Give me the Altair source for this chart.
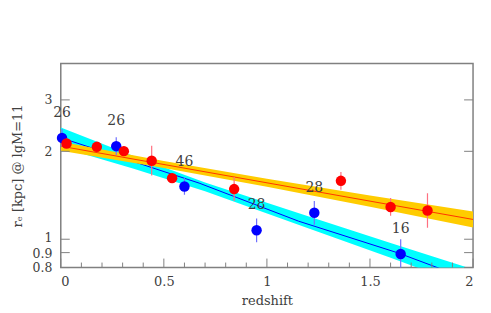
import altair as alt
import pandas as pd

# ---- data ----
blue_z = [0.006, 0.269, 0.600, 0.950, 1.230, 1.649]
blue_r = [2.223, 2.083, 1.516, 1.073, 1.232, 0.890]
blue_lo = [2.072, 1.942, 1.419, 0.977, 1.121, 0.791]
blue_hi = [2.384, 2.235, 1.620, 1.178, 1.353, 1.000]
blue_n = ["26", "26", "46", "28", "28", "16"]

red_z = [0.028, 0.175, 0.306, 0.441, 0.540, 0.841, 1.359, 1.600, 1.779]
red_r = [2.127, 2.072, 2.003, 1.857, 1.619, 1.485, 1.585, 1.290, 1.254]
red_lo = [2.046, 1.992, 1.926, 1.652, 1.557, 1.353, 1.477, 1.203, 1.094]
red_hi = [2.212, 2.154, 2.083, 2.088, 1.683, 1.632, 1.700, 1.385, 1.438]

blue_fit_z = [0.0, 0.671, 1.154, 1.638, 2.0]
blue_fit_r = [2.226, 1.557, 1.153, 0.897, 0.720]
blue_band_z = [0.0, 0.35, 0.7, 1.2, 1.6, 2.0]
blue_band_lo = [2.065, 1.746, 1.459, 1.091, 0.864, 0.680]
blue_band_hi = [2.414, 1.932, 1.565, 1.198, 0.971, 0.789]

red_fit_z = [0.0, 2.0]
red_fit_r = [2.083, 1.169]
red_band_z = [0.0, 0.5, 1.0, 1.5, 2.0]
red_band_lo = [2.011, 1.753, 1.512, 1.291, 1.098]
red_band_hi = [2.158, 1.854, 1.610, 1.413, 1.244]

y_ticks = [0.8, 0.9, 1, 2, 3]
x_major = [0, 0.5, 1, 1.5, 2]
x_minor = [0.1, 0.2, 0.3, 0.4, 0.6, 0.7, 0.8, 0.9, 1.1, 1.2, 1.3, 1.4,
           1.6, 1.7, 1.8, 1.9]

FONT = "DejaVu Serif"
W, H = 414, 205

blue = pd.DataFrame({"z": blue_z, "r": blue_r, "lo": blue_lo, "hi": blue_hi, "n": blue_n})
red = pd.DataFrame({"z": red_z, "r": red_r, "lo": red_lo, "hi": red_hi})
bfit = pd.DataFrame({"z": blue_fit_z, "r": blue_fit_r})
rfit = pd.DataFrame({"z": red_fit_z, "r": red_fit_r})
bband = pd.DataFrame({"z": blue_band_z, "lo": blue_band_lo, "hi": blue_band_hi})
rband = pd.DataFrame({"z": red_band_z, "lo": red_band_lo, "hi": red_band_hi})
yt = pd.DataFrame({"v": y_ticks})
xM = pd.DataFrame({"v": x_major})
xm = pd.DataFrame({"v": x_minor})

xs = alt.Scale(domain=[0, 2], nice=False, zero=False)
ys = alt.Scale(type="log", domain=[0.8, 4], nice=False)

axis_style = dict(labelFont=FONT, titleFont=FONT,
                  titleFontSize=13, labelColor="#404040", titleColor="#404040",
                  titleFontWeight="normal", grid=False, domain=False, ticks=False,
                  labelOverlap=False)
x_axis = alt.Axis(values=x_major, format=".1~f", title="redshift",
                  labelFontSize=13, labelPadding=8, titlePadding=6, **axis_style)
y_axis = alt.Axis(values=y_ticks, format=".1~f", title="rₑ [kpc] @ lgM=11",
                  labelFontSize=12.5, labelPadding=9, titlePadding=8,
                  labelOffset={"expr": "datum.value == 1 ? -1.5 : (datum.value == 0.9 ? 1 : 0)"},
                  **axis_style)

base_x = alt.X("z:Q", scale=xs)

band_b = alt.Chart(bband).mark_area(color="#00ffff", clip=True).encode(
    x=alt.X("z:Q", scale=xs, axis=x_axis),
    y=alt.Y("lo:Q", scale=ys, axis=y_axis), y2="hi:Q")
line_b = alt.Chart(bfit).mark_line(color="#0000ff", strokeWidth=1, clip=True).encode(
    x=base_x, y=alt.Y("r:Q", scale=ys))
band_r = alt.Chart(rband).mark_area(color="#ffcc00", clip=True).encode(
    x=base_x, y=alt.Y("lo:Q", scale=ys), y2="hi:Q")
line_r = alt.Chart(rfit).mark_line(color="#ff3300", strokeWidth=1, clip=True).encode(
    x=base_x, y=alt.Y("r:Q", scale=ys))

err_b = alt.Chart(blue).mark_rule(color="#7070ff", strokeWidth=1.2, clip=True).encode(
    x=base_x, y=alt.Y("lo:Q", scale=ys), y2="hi:Q")
pts_b = alt.Chart(blue).mark_circle(color="#0000ff", opacity=1, size=110).encode(
    x=base_x, y=alt.Y("r:Q", scale=ys))
lab_b = alt.Chart(blue).mark_text(font=FONT, fontSize=14, color="#404040", dy=-25).encode(
    x=base_x, y=alt.Y("r:Q", scale=ys), text="n:N")

err_r = alt.Chart(red).mark_rule(color="#ff7080", strokeWidth=1.2, clip=True).encode(
    x=base_x, y=alt.Y("lo:Q", scale=ys), y2="hi:Q")
pts_r = alt.Chart(red).mark_circle(color="#ff0000", opacity=1, size=110).encode(
    x=base_x, y=alt.Y("r:Q", scale=ys))

tick_col = "#808080"
tl = alt.Chart(yt).mark_rule(color=tick_col).encode(
    y=alt.Y("v:Q", scale=ys), x=alt.value(0), x2=alt.value(9))
tr = alt.Chart(yt).mark_rule(color=tick_col).encode(
    y=alt.Y("v:Q", scale=ys), x=alt.value(W), x2=alt.value(W - 9))
tbM = alt.Chart(xM).mark_rule(color=tick_col).encode(
    x=alt.X("v:Q", scale=xs), y=alt.value(H), y2=alt.value(H - 9))
tbm = alt.Chart(xm).mark_rule(color=tick_col).encode(
    x=alt.X("v:Q", scale=xs), y=alt.value(H), y2=alt.value(H - 5))

chart = alt.layer(
    band_b, line_b, band_r, line_r, err_b, pts_b, lab_b, err_r, pts_r,
    tl, tr, tbM, tbm
).properties(
    width=W, height=H,
    background="white",
    autosize=alt.AutoSizeParams(type="none"),
    padding={"left": 53, "top": 55, "right": 10, "bottom": 45},
).configure_view(
    stroke="#808080", strokeWidth=1.5
)

chart.save("out.html", embed_options={"renderer": "svg", "actions": False})
